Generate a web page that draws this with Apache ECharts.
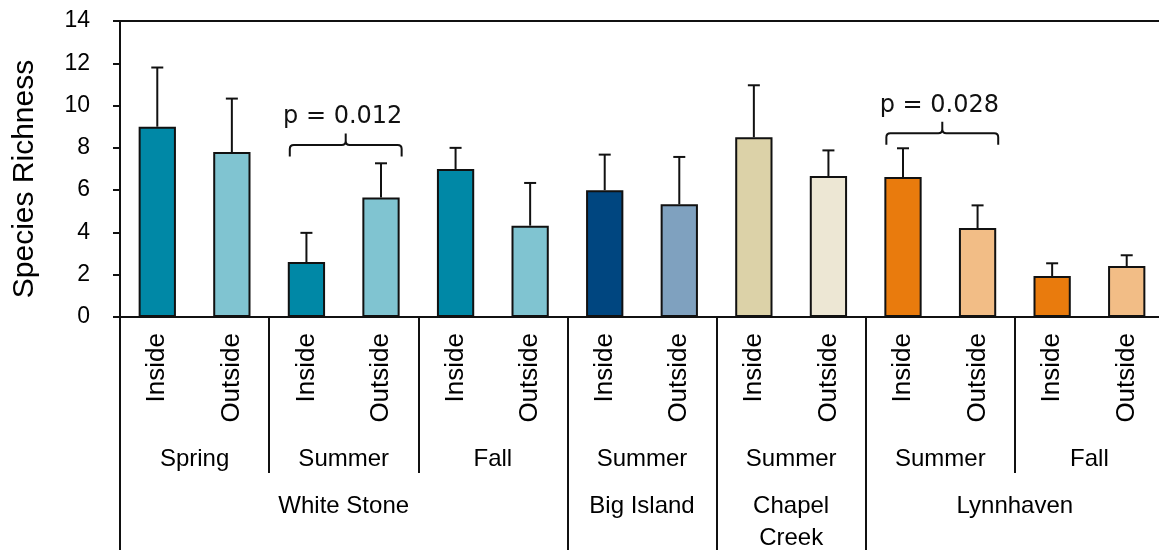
<!DOCTYPE html>
<html>
<head>
<meta charset="utf-8">
<script src="https://cdn.jsdelivr.net/npm/echarts@6/dist/echarts.min.js"></script>
<style>
  html, body { margin: 0; padding: 0; background: #fff; }
  #chart { width: 1159px; height: 550px; }
</style>
</head>
<body>
<div id="chart"></div>
<script>
// ---- data ----
const categories = ['Inside','Outside','Inside','Outside','Inside','Outside','Inside','Outside','Inside','Outside','Inside','Outside','Inside','Outside'];
const meanValues = [9.0, 7.8, 2.6, 5.65, 7.0, 4.32, 6.0, 5.33, 8.5, 6.67, 6.62, 4.21, 1.94, 2.41];
const errorTops  = [11.8, 10.33, 3.98, 7.27, 8.0, 6.34, 7.68, 7.57, 10.96, 7.88, 7.98, 5.28, 2.54, 2.92];
const seasonPositions = [1, 3, 5, 7, 9, 11, 13];
const seasonNames = ['Spring', 'Summer', 'Fall', 'Summer', 'Summer', 'Summer', 'Fall'];
const seasonDividers = [2, 4, 12];
const sitePositions = [3, 7, 9, 12];
const siteNames = ['White Stone', 'Big Island', 'Chapel\nCreek', 'Lynnhaven'];
const siteDividers = [0, 6, 8, 10, 14];
const yTicks = [0, 2, 4, 6, 8, 10, 12, 14];
const comparisons = [[2, 3, 8.14, 'p = 0.012'], [10, 11, 8.69, 'p = 0.028']];

// ---- styles ----
const barColors = ['#0088a6','#80c4d1','#0088a6','#80c4d1','#0088a6','#80c4d1',
                   '#004680','#7fa1bf','#dcd2a8','#ede7d4',
                   '#e97b0d','#f2bd86','#e97b0d','#f2bd86'];
const ink = '#111';
const labelFont = 'Liberation Sans, Arial, sans-serif';

const chart = echarts.init(document.getElementById('chart'), null, { renderer: 'canvas' });

const option = {
  animation: false,
  backgroundColor: '#fff',
  grid: { left: 120, top: 21, width: 1044, height: 296, containLabel: false, outerBoundsMode: 'none' },
  xAxis: [
    {
      type: 'category', data: categories, position: 'bottom',
      axisLine: { show: true, lineStyle: { color: ink, width: 2 } },
      axisTick: { show: false },
      axisLabel: { rotate: 90, margin: 16, fontSize: 26, fontFamily: labelFont, color: '#000' },
      splitLine: { show: false }
    },
    {
      type: 'value', min: 0, max: 14, position: 'bottom',
      axisLine: { show: false },
      axisTick: { show: true, customValues: seasonDividers, length: 156, lineStyle: { color: ink, width: 2 } },
      axisLabel: {
        customValues: seasonPositions, margin: 126, verticalAlign: 'top', lineHeight: 32,
        fontSize: 24, fontFamily: labelFont, color: '#000',
        formatter: v => seasonNames[seasonPositions.indexOf(v)] || ''
      },
      splitLine: { show: false }
    },
    {
      type: 'value', min: 0, max: 14, position: 'bottom',
      axisLine: { show: false },
      axisTick: { show: true, customValues: siteDividers, length: 233, lineStyle: { color: ink, width: 2 } },
      axisLabel: {
        customValues: sitePositions, margin: 173, verticalAlign: 'top', lineHeight: 32,
        fontSize: 24, fontFamily: labelFont, color: '#000',
        formatter: v => siteNames[sitePositions.indexOf(v)] || ''
      },
      splitLine: { show: false }
    },
    {
      type: 'value', min: 0, max: 14, position: 'top',
      axisLine: { show: true, lineStyle: { color: ink, width: 2 } },
      axisTick: { show: false }, axisLabel: { show: false }, splitLine: { show: false }
    }
  ],
  yAxis: {
    type: 'value', min: 0, max: 14, interval: 2,
    axisLine: { show: true, lineStyle: { color: ink, width: 2 } },
    axisTick: { show: true, length: 7, lineStyle: { color: ink, width: 2 } },
    axisLabel: { margin: 30, fontSize: 23, fontFamily: labelFont, color: '#000',
                 customValues: yTicks },
    splitLine: { show: false },
    name: 'Species Richness', nameLocation: 'middle', nameGap: 80,
    nameTextStyle: { fontSize: 30, fontFamily: labelFont, color: '#000', padding: [0, 20, 0, 0] }
  },
  series: [
    {
      type: 'bar', xAxisIndex: 0, barWidth: '50%',
      data: meanValues.map((v, i) => ({
        value: v,
        itemStyle: { color: barColors[i], borderColor: ink, borderWidth: 2 }
      })),
      z: 2
    },
    {
      type: 'custom', xAxisIndex: 0, z: 3,
      data: meanValues.map((v, i) => [i, v, errorTops[i]]),
      encode: { x: 0, y: [1, 2] },
      renderItem: function (params, api) {
        const i = api.value(0);
        const base = api.coord([i, api.value(1)]);
        const top = api.coord([i, api.value(2)]);
        const half = 6;
        return {
          type: 'group',
          children: [
            { type: 'line', shape: { x1: base[0], y1: base[1], x2: top[0], y2: top[1] },
              style: { stroke: ink, lineWidth: 2 } },
            { type: 'line', shape: { x1: top[0] - half, y1: top[1], x2: top[0] + half, y2: top[1] },
              style: { stroke: ink, lineWidth: 2 } }
          ]
        };
      }
    },
    {
      type: 'custom', xAxisIndex: 0, z: 4,
      data: comparisons,
      encode: { x: [0, 1], y: 2 },
      renderItem: function (params, api) {
        const a = api.value(0), b = api.value(1), yv = api.value(2);
        const label = comparisons[params.dataIndex][3];
        const bandW = api.size([1, 0])[0];
        const pA = api.coord([a, yv]);
        const pB = api.coord([b, yv]);
        const x0 = pA[0] - bandW * 0.25 + 2;
        const x1 = pB[0] + bandW * 0.25 + 2;
        const xm = (x0 + x1) / 2;
        const yh = pA[1];
        const r = 4, drop = 11.5, rise = 11.5;
        const d = [
          'M', x0, yh + drop, 'L', x0, yh + r, 'Q', x0, yh, x0 + r, yh,
          'L', xm - r, yh, 'Q', xm, yh, xm, yh - r, 'L', xm, yh - rise,
          'M', xm, yh - r, 'Q', xm, yh, xm + r, yh,
          'L', x1 - r, yh, 'Q', x1, yh, x1, yh + r, 'L', x1, yh + drop
        ].join(' ');
        return {
          type: 'group',
          children: [
            { type: 'path', shape: { pathData: d },
              style: { stroke: ink, lineWidth: 2, fill: null } },
            { type: 'text',
              style: { x: xm - 3, y: yh - 28, text: label, align: 'center', verticalAlign: 'middle',
                       font: '24px "DejaVu Sans"', fill: ink } }
          ]
        };
      }
    }
  ]
};

chart.setOption(option);
</script>
</body>
</html>
